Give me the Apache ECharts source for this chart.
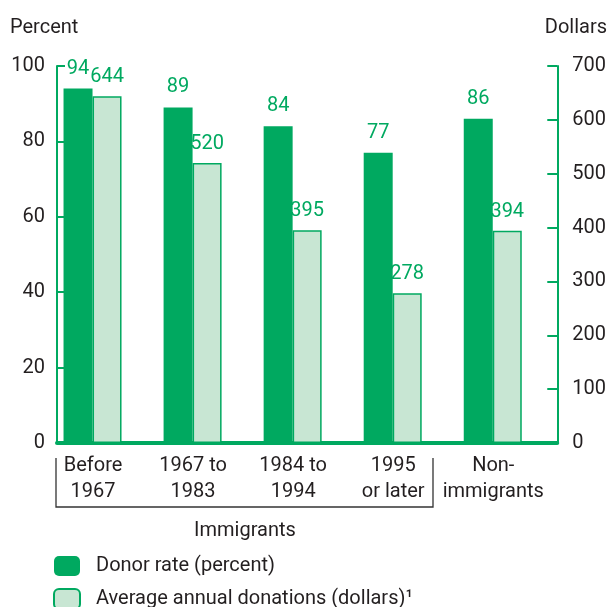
<!DOCTYPE html>
<html>
<head>
<meta charset="utf-8">
<script src="https://cdn.jsdelivr.net/npm/echarts@6/dist/echarts.min.js"></script>
<style>
  html, body { margin: 0; padding: 0; background: #fff; }
  #main { width: 609px; height: 607px; }
</style>
</head>
<body>
<div id="main"></div>
<script>
// values
var categories = ['Before\n1967', '1967 to\n1983', '1984 to\n1994', '1995\nor later', 'Non-\nimmigrants']
var donorRate = [94, 89, 84, 77, 86]
var donations = [644, 520, 395, 278, 394]
var spacer = ['-', '-', '-', '-', '-']

var GREEN = '#00a960'
var LIGHT = '#c8e6d3'
var INK = '#231f20'
var FONT = 'Roboto, sans-serif'

var myChart = echarts.init(document.getElementById('main'))

myChart.setOption({
  animation: false,
  textStyle: { fontFamily: FONT },
  grid: { left: 57, right: 47, top: 66, bottom: 164 },
  legend: {
    orient: 'vertical',
    left: 53,
    bottom: -3,
    width: 520,
    height: 60,
    padding: 0,
    itemWidth: 26,
    itemHeight: 20,
    itemGap: 12,
    align: 'left',
    textStyle: { fontSize: 20, color: INK, fontFamily: FONT, padding: [0, 0, 0, 11] },
    data: [
      { name: 'Donor rate (percent)', itemStyle: { color: GREEN } },
      { name: 'Average annual donations (dollars)\u00b9', itemStyle: { color: LIGHT, borderColor: GREEN, borderWidth: 2 } }
    ]
  },
  xAxis: {
    type: 'category',
    data: categories,
    axisLine: { lineStyle: { color: GREEN, width: 4 } },
    axisTick: { show: false },
    axisLabel: {
      interval: 0,
      margin: 10,
      fontSize: 20,
      lineHeight: 26,
      color: INK,
      padding: [0, 28, 0, 0]
    }
  },
  yAxis: [
    {
      type: 'value', min: 0, max: 100, interval: 20,
      axisLine: { show: true, lineStyle: { color: GREEN, width: 2 } },
      axisTick: { show: true, inside: true, length: 8, lineStyle: { color: GREEN, width: 2 } },
      axisLabel: { fontSize: 20, color: INK, margin: 12 },
      splitLine: { show: false }
    },
    {
      type: 'value', min: 0, max: 700, interval: 100,
      axisLine: { show: true, lineStyle: { color: GREEN, width: 2 } },
      axisTick: { show: true, inside: true, length: 10, lineStyle: { color: GREEN, width: 2 } },
      axisLabel: { fontSize: 20, color: INK, margin: 15 },
      splitLine: { show: false }
    }
  ],
  series: [
    {
      name: 'Donor rate (percent)',
      type: 'bar',
      yAxisIndex: 0,
      barWidth: 29,
      barGap: '0%',
      data: donorRate,
      itemStyle: { color: GREEN },
      label: { show: true, position: 'top', distance: 10, fontSize: 20, color: GREEN }
    },
    {
      name: 'Average annual donations (dollars)\u00b9',
      type: 'bar',
      yAxisIndex: 1,
      barWidth: 29,
      barGap: '0%',
      data: donations,
      itemStyle: { color: LIGHT, borderColor: GREEN, borderWidth: 1.5 },
      label: { show: true, position: 'top', distance: 9, fontSize: 20, color: GREEN }
    },
    {
      // empty slot so the pair sits left of the category centre
      name: 'spacer',
      type: 'bar',
      barWidth: 29,
      barGap: '0%',
      silent: true,
      data: spacer
    }
  ],
  graphic: [
    { type: 'text', left: 10, top: 18, style: { text: 'Percent', fontSize: 20, fill: INK, fontFamily: FONT } },
    { type: 'text', right: 2, top: 18, style: { text: 'Dollars', fontSize: 20, fill: INK, fontFamily: FONT } },
    {
      type: 'polyline',
      shape: { points: [[56, 458], [56, 507], [433, 507], [433, 458]] },
      style: { stroke: '#333', lineWidth: 1.3, fill: null }
    },
    { type: 'text', x: 245, y: 531, style: { text: 'Immigrants', fontSize: 20, fill: INK, fontFamily: FONT, align: 'center', verticalAlign: 'middle' } }
  ]
})
</script>
</body>
</html>
